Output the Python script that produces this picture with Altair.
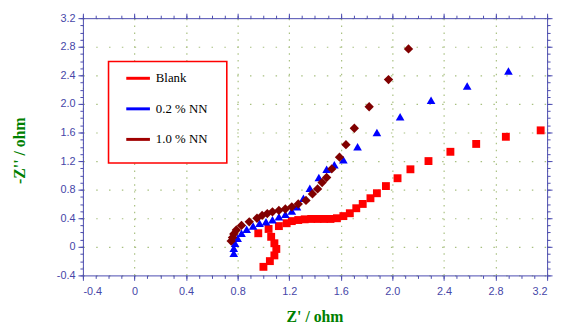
import altair as alt
import pandas as pd

series_names = ["Blank", "0.2 % NN", "1.0 % NN"]
series_colors = ["#ff0000", "#0000ff", "#800000"]
legend_line_colors = ["#ff0000", "#0000ff", "#a00000"]
series_shapes = ["square", "triangle-up", "diamond"]
series_sizes = [64, 90, 90]

blank_x = [1.00, 1.05, 1.085, 1.10, 1.085, 1.06, 1.04, 0.96, 1.12, 1.18, 1.22, 1.27, 1.32, 1.37, 1.42, 1.47,
           1.52, 1.57, 1.62, 1.67, 1.72, 1.77, 1.83, 1.88, 1.95, 2.04, 2.14, 2.28, 2.45, 2.65, 2.88, 3.15]
blank_y = [-0.28, -0.20, -0.12, -0.03, 0.05, 0.14, 0.25, 0.19, 0.29, 0.33, 0.36, 0.375, 0.385, 0.39, 0.39, 0.39,
           0.39, 0.40, 0.43, 0.47, 0.54, 0.60, 0.68, 0.75, 0.85, 0.96, 1.085, 1.20, 1.33, 1.44, 1.54, 1.63]

nn02_x = [0.77, 0.77, 0.78, 0.80, 0.83, 0.87, 0.92, 0.97, 1.02, 1.07, 1.12, 1.17, 1.22, 1.26, 1.31, 1.36,
          1.43, 1.49, 1.55, 1.62, 1.73, 1.88, 2.06, 2.30, 2.58, 2.90]
nn02_y = [-0.09, -0.02, 0.05, 0.12, 0.19, 0.245, 0.29, 0.33, 0.35, 0.38, 0.42, 0.455, 0.50, 0.56, 0.68, 0.82,
          0.97, 1.085, 1.15, 1.22, 1.40, 1.60, 1.82, 2.05, 2.25, 2.46]

nn10_x = [0.75, 0.76, 0.77, 0.79, 0.83, 0.89, 0.95, 0.99, 1.03, 1.07, 1.12, 1.17, 1.22, 1.27, 1.33, 1.38,
          1.42, 1.455, 1.49, 1.53, 1.59, 1.64, 1.705, 1.82, 1.97, 2.125]
nn10_y = [0.08, 0.13, 0.18, 0.235, 0.30, 0.35, 0.40, 0.44, 0.465, 0.49, 0.51, 0.53, 0.56, 0.60, 0.65, 0.74,
          0.81, 0.90, 0.97, 1.09, 1.255, 1.43, 1.66, 1.96, 2.34, 2.77]

major_ticks = [round(-0.4 + 0.4 * i, 1) for i in range(10)]
minor_ticks = [round(-0.4 + 0.1 * i, 1) for i in range(37)]

frames = []
for name, xs, ys in zip(series_names, [blank_x, nn02_x, nn10_x], [blank_y, nn02_y, nn10_y]):
    frames.append(pd.DataFrame({"x": xs, "y": ys, "series": name}))
df = pd.concat(frames, ignore_index=True)
df["idx"] = range(len(df))

AX = "#4a4ab0"
LBL = "#4646a8"
GRID = "#a8c080"
label_expr = "datum.value == 0 ? '0' : (datum.value < 0 ? '-' : '') + format(abs(datum.value), '.1f')"

xscale = alt.Scale(domain=[-0.4, 3.2], nice=False, zero=False)
yscale = alt.Scale(domain=[-0.4, 3.2], nice=False, zero=False)
cscale = alt.Scale(domain=series_names, range=series_colors)

W, H = 471, 261

main_x_axis = alt.Axis(
    orient="bottom", values=major_ticks, labelExpr=label_expr, grid=True, gridColor=GRID,
    gridDash=[1.5, 5.5], gridWidth=1.2, tickSize=5, tickColor=AX, domainColor=AX,
    labelColor=LBL, labelFont="Liberation Sans", labelFontSize=11, labelPadding=5,
    title="Z' / ohm", titleFont="Liberation Serif", titleFontWeight="bold", titleFontSize=16,
    titleColor="#008000", titleX=235, titleY=47, titleBaseline="alphabetic", titleAlign="center",
)
main_y_axis = alt.Axis(
    orient="left", values=major_ticks, labelExpr=label_expr, grid=True, gridColor=GRID,
    gridDash=[1.5, 11.5], gridWidth=1.2, tickSize=5, tickColor=AX, domainColor=AX,
    labelColor=LBL, labelFont="Liberation Sans", labelFontSize=11, labelPadding=3,
    title="-Z'' / ohm", titleFont="Liberation Serif", titleFontWeight="bold", titleFontSize=16,
    titleColor="#008000", titleX=-64, titleY=134, titleAngle=270, titleBaseline="middle",
    titleAlign="center",
)

points = alt.Chart(df).mark_point(filled=True, opacity=1).encode(
    x=alt.X("x:Q", scale=xscale, axis=main_x_axis),
    y=alt.Y("y:Q", scale=yscale, axis=main_y_axis),
    fill=alt.Fill("series:N", scale=cscale, legend=None),
    shape=alt.Shape("series:N", scale=alt.Scale(domain=series_names, range=series_shapes), legend=None),
    size=alt.Size("series:N", scale=alt.Scale(domain=series_names, range=series_sizes), legend=None),
    order=alt.Order("idx:Q"),
)


def ghost(xorient, yorient, vals, tsize, domain):
    return alt.Chart(df).mark_point(opacity=0).encode(
        x=alt.X("x:Q", scale=xscale, axis=alt.Axis(
            orient=xorient, values=vals, labels=False, grid=False, tickSize=tsize,
            tickColor=AX, domain=domain, domainColor=AX, title="")),
        y=alt.Y("y:Q", scale=yscale, axis=alt.Axis(
            orient=yorient, values=vals, labels=False, grid=False, tickSize=tsize,
            tickColor=AX, domain=domain, domainColor=AX, title="")),
    )


# legend box (drawn as marks, placed in pixels inside the plot area)
legend_layers = [
    alt.Chart(pd.DataFrame({"series": ["box"]})).mark_rect(
        fill="white", stroke="#ff0000", strokeWidth=1.6
    ).encode(x=alt.value(26), x2=alt.value(146), y=alt.value(44), y2=alt.value(147))
]
row_y = [61, 92, 123]
for name, col, ry in zip(series_names, legend_line_colors, row_y):
    one = pd.DataFrame({"series": [name]})
    legend_layers.append(
        alt.Chart(one).mark_rule(strokeWidth=3, color=col).encode(
            x=alt.value(44), x2=alt.value(68), y=alt.value(ry))
    )
    legend_layers.append(
        alt.Chart(one).mark_text(align="left", baseline="middle", font="Liberation Serif",
                                 fontSize=13, color="black").encode(
            x=alt.value(74), y=alt.value(ry), text="series:N")
    )

chart = alt.layer(
    points,
    ghost("bottom", "left", minor_ticks, 3, False),
    ghost("top", "right", major_ticks, 5, True),
    ghost("top", "right", minor_ticks, 3, False),
    *legend_layers,
).resolve_axis(x="independent", y="independent").properties(
    width=W, height=H,
    autosize=alt.AutoSizeParams(type="none"),
    padding={"left": 76, "top": 8, "right": 8, "bottom": 48},
    background="white",
).configure_view(stroke=None)

chart.save("out.html", embed_options={"renderer": "svg", "actions": False})
